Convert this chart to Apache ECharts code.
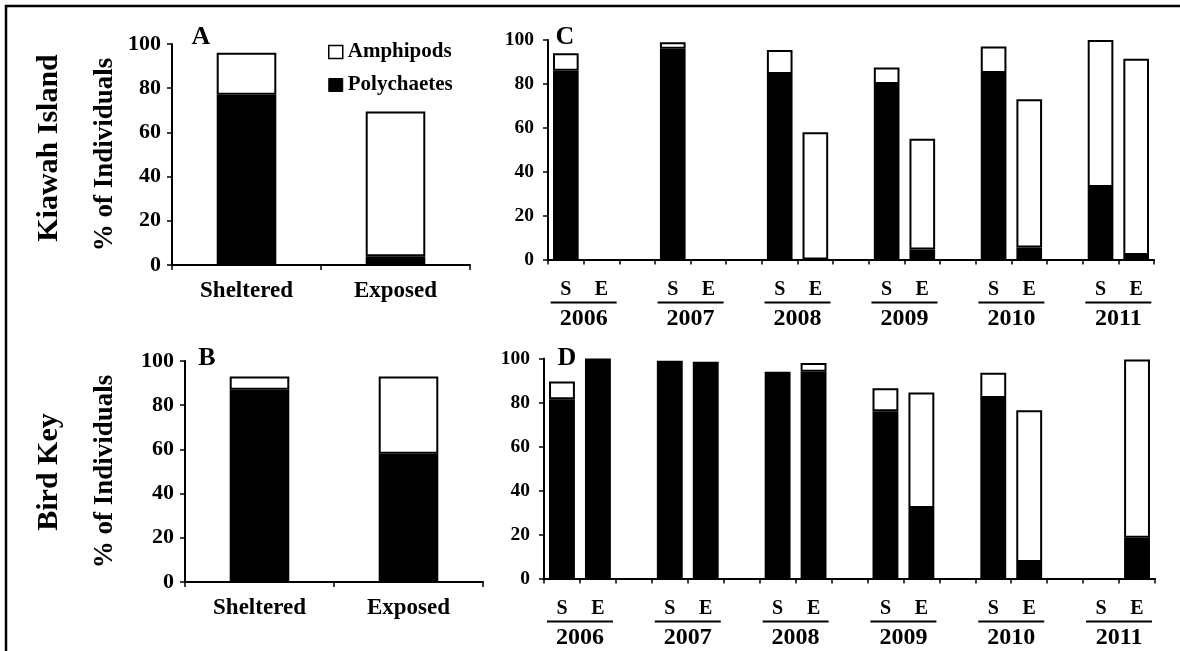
<!DOCTYPE html>
<html>
<head>
<meta charset="utf-8">
<title>Amphipods and polychaetes by site and year</title>
<script src="https://cdn.jsdelivr.net/npm/echarts@6/dist/echarts.min.js"></script>
<style>
  html, body { margin: 0; padding: 0; background: #fff; }
  #chart { width: 1180px; height: 651px; }
</style>
</head>
<body>
<div id="chart"></div>
<script>
// Exposure groups for the pooled panels (A, B)
const exposureGroups = ['Sheltered', 'Exposed'];

// Pooled % of individuals, Kiawah Island (panel A)
const kiawahPolyPooled = [77, 4];
const kiawahAmphPooled = [19, 65.5];

// Pooled % of individuals, Bird Key (panel B)
const birdPolyPooled = [87, 58];
const birdAmphPooled = [6, 35];

// Yearly slots: sheltered, exposed, then a spacer between years
const yearSlots = [
  'S-2006', 'E-2006', 'gap-2006',
  'S-2007', 'E-2007', 'gap-2007',
  'S-2008', 'E-2008', 'gap-2008',
  'S-2009', 'E-2009', 'gap-2009',
  'S-2010', 'E-2010', 'gap-2010',
  'S-2011', 'E-2011'
];

// Year captions placed on the slot boundaries (between S and E)
const yearBoundaryLabels = [
  '', '2006', '', '', '2007', '', '', '2008', '', '',
  '2009', '', '', '2010', '', '', '2011', ''
];

// Yearly % of individuals, Kiawah Island (panel C); null = not sampled
const kiawahPolyYearly = [86, null, null, 96, null, null, 84.5, 0, null, 80, 4.5, null, 85, 5.5, null, 33, 2];
const kiawahAmphYearly = [8, null, null, 3, null, null, 11, 58, null, 7.5, 50.5, null, 12, 67.5, null, 67, 89.5];

// Yearly % of individuals, Bird Key (panel D)
const birdPolyYearly = [81.5, 100, null, 99, 98.5, null, 94, 94, null, 76, 32, null, 82, 7.5, null, null, 18.5];
const birdAmphYearly = [8, null, null, null, null, null, null, 4, null, 10.5, 52.5, null, 11.5, 69, null, null, 81];

// Y axis ticks
const percentTicks = { min: 0, max: 100, interval: 20 };

const SERIF = '"Liberation Serif", "Times New Roman", "DejaVu Serif", serif';
const INK = '#000';

const chart = echarts.init(document.getElementById('chart'), null, { renderer: 'canvas' });

function valueAxis(gridIndex, fontSize, margin, name, nameGap) {
  return {
    type: 'value',
    gridIndex,
    min: percentTicks.min,
    max: percentTicks.max,
    interval: percentTicks.interval,
    axisLine: { show: true, lineStyle: { color: INK, width: 2 } },
    axisTick: { show: true, length: 5, lineStyle: { color: INK, width: 1.5 } },
    splitLine: { show: false },
    axisLabel: { color: INK, fontFamily: SERIF, fontWeight: 'bold', fontSize, margin },
    name: name || '',
    nameLocation: 'middle',
    nameGap: nameGap || 0,
    nameTextStyle: { color: INK, fontFamily: SERIF, fontWeight: 'bold', fontSize: 27 }
  };
}

function groupAxis(gridIndex) {
  return {
    type: 'category',
    gridIndex,
    data: exposureGroups,
    axisLine: { lineStyle: { color: INK, width: 2 } },
    axisTick: { show: true, length: 5, lineStyle: { color: INK, width: 1.5 } },
    axisLabel: { color: INK, fontFamily: SERIF, fontWeight: 'bold', fontSize: 23, margin: 15 }
  };
}

function slotAxis(gridIndex) {
  return {
    type: 'category',
    gridIndex,
    data: yearSlots,
    axisLine: { lineStyle: { color: INK, width: 2 } },
    axisTick: { show: true, length: 5, lineStyle: { color: INK, width: 1.5 } },
    axisLabel: {
      interval: 0,
      color: INK, fontFamily: SERIF, fontWeight: 'bold', fontSize: 20, margin: 20,
      formatter: (v) => (v.startsWith('gap') ? '' : v.charAt(0))
    }
  };
}

function yearAxis(gridIndex) {
  return {
    type: 'category',
    gridIndex,
    position: 'bottom',
    boundaryGap: false,
    data: yearBoundaryLabels,
    axisLine: { show: false },
    axisTick: { show: false },
    axisLabel: {
      interval: 0,
      margin: 42,
      formatter: (v) => (v ? '{u|}\n{y|' + v + '}' : ''),
      rich: {
        u: { width: 66, height: 2, lineHeight: 2, backgroundColor: INK },
        y: { color: INK, fontFamily: SERIF, fontWeight: 'bold', fontSize: 24, lineHeight: 26, padding: [4, 0, 0, 0] }
      }
    }
  };
}

function stackedPair(xIdx, yIdx, poly, amph, gap) {
  const base = {
    type: 'bar',
    xAxisIndex: xIdx,
    yAxisIndex: yIdx,
    stack: 'panel' + xIdx,
    barCategoryGap: gap,
    animation: false
  };
  return [
    Object.assign({}, base, {
      name: 'Polychaetes',
      data: poly,
      itemStyle: { color: INK, borderColor: INK, borderWidth: 1.5 }
    }),
    Object.assign({}, base, {
      name: 'Amphipods',
      data: amph,
      itemStyle: { color: '#fff', borderColor: INK, borderWidth: 2 }
    })
  ];
}

function label(text, x, y, size, rotate) {
  return {
    type: 'text',
    x, y,
    rotation: rotate ? Math.PI / 2 : 0,
    style: {
      text,
      fill: INK,
      font: 'bold ' + size + 'px ' + SERIF,
      textAlign: 'center',
      textVerticalAlign: 'middle'
    }
  };
}

const option = {
  backgroundColor: '#fff',
  animation: false,
  grid: [
    { left: 172, top: 44, width: 298, height: 221, outerBoundsMode: 'none' },
    { left: 185, top: 361, width: 298, height: 221, outerBoundsMode: 'none' },
    { left: 548, top: 40, width: 606, height: 219.5, outerBoundsMode: 'none' },
    { left: 544, top: 358.5, width: 611, height: 220, outerBoundsMode: 'none' }
  ],
  legend: {
    left: 323,
    top: 36,
    orient: 'vertical',
    itemWidth: 14,
    itemHeight: 13,
    itemGap: 11,
    selectedMode: false,
    textStyle: { color: INK, fontFamily: SERIF, fontWeight: 'bold', fontSize: 21, lineHeight: 22 },
    data: [
      { name: 'Amphipods', icon: 'rect', itemStyle: { color: '#fff', borderColor: INK, borderWidth: 1.5 } },
      { name: 'Polychaetes', icon: 'rect', itemStyle: { color: INK, borderColor: INK, borderWidth: 1 } }
    ]
  },
  xAxis: [
    groupAxis(0),
    groupAxis(1),
    slotAxis(2),
    yearAxis(2),
    slotAxis(3),
    yearAxis(3)
  ],
  yAxis: [
    valueAxis(0, 22, 11, '% of Individuals', 53),
    valueAxis(1, 22, 11, '% of Individuals', 66),
    valueAxis(2, 19.5, 14),
    valueAxis(3, 19.5, 14)
  ],
  series: [].concat(
    stackedPair(0, 0, kiawahPolyPooled, kiawahAmphPooled, '60%'),
    stackedPair(1, 1, birdPolyPooled, birdAmphPooled, '60%'),
    stackedPair(2, 2, kiawahPolyYearly, kiawahAmphYearly, '28%'),
    stackedPair(4, 3, birdPolyYearly, birdAmphYearly, '28%')
  ),
  graphic: [
    {
      // figure frame: top and left edges only
      type: 'polyline',
      shape: { points: [[6, 700], [6, 6], [1240, 6]] },
      style: { fill: null, stroke: INK, lineWidth: 2.5 },
      silent: true
    },
    label('Kiawah Island', 49, 148, 30, true),
    label('Bird Key', 49, 472, 30, true),
    label('A', 201, 37, 26),
    label('B', 207, 358, 26),
    label('C', 565, 37, 26),
    label('D', 567, 358, 26)
  ]
};

chart.setOption(option);
</script>
</body>
</html>
